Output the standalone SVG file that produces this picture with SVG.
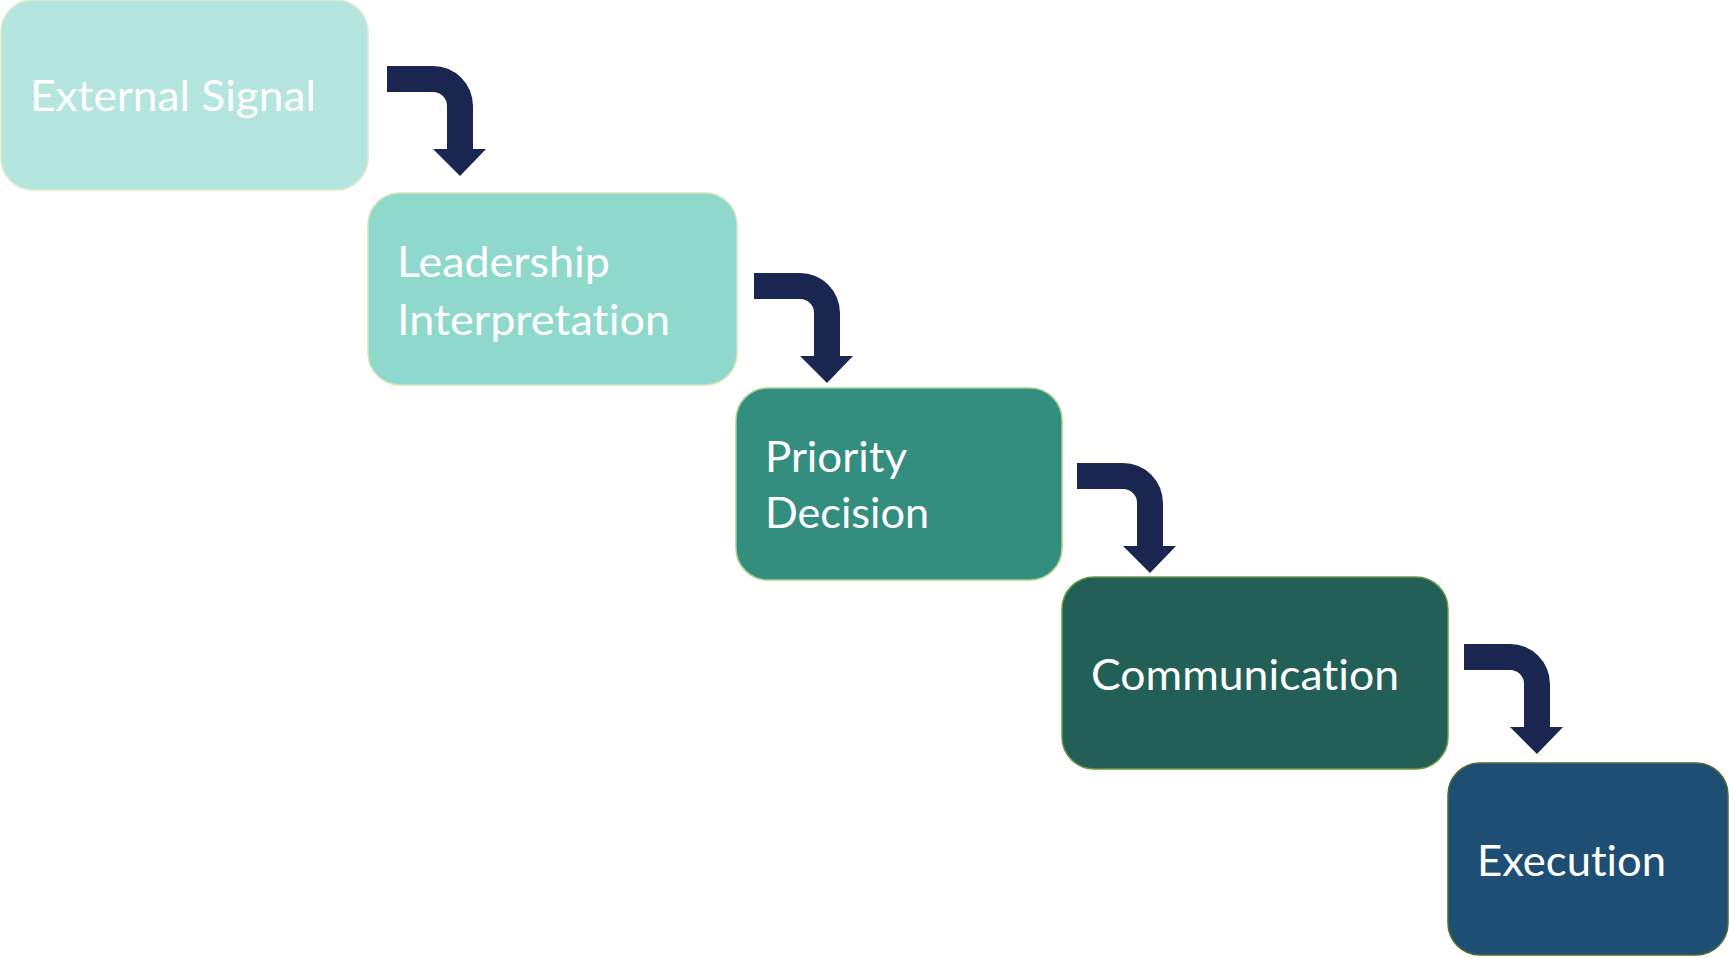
<svg xmlns="http://www.w3.org/2000/svg" width="1729" height="958" viewBox="0 0 1729 958">
<style>
.lbl{font-family:"Lato","Open Sans","Liberation Sans",sans-serif;font-size:43px;fill:#ffffff;font-variant-ligatures:none;font-feature-settings:"liga" 0,"clig" 0,"dlig" 0;}
.arrow{fill:#1a2550;}
</style>
<defs>
<path id="bent" d="M0,0 H46 A40,40 0 0 1 86,40 V83 H99 L73,110 L46,83 H60 V40 A14,14 0 0 0 46,26 H0 Z"/>
</defs>
<rect width="1729" height="958" fill="#ffffff"/>
<g id="connectors">
<use href="#bent" class="arrow" x="387" y="66"/>
<use href="#bent" class="arrow" x="754" y="273"/>
<use href="#bent" class="arrow" x="1077" y="463"/>
<use href="#bent" class="arrow" x="1464" y="644"/>
</g>
<g id="node-external-signal">
<rect x="1" y="0" width="367" height="190" rx="32" fill="#b4e5de" stroke="#dcebc8" stroke-width="1.5"/>
<text class="lbl" x="30" y="111" textLength="286" lengthAdjust="spacingAndGlyphs">External Signal</text>
</g>
<g id="node-leadership-interpretation">
<rect x="368" y="193" width="369" height="192" rx="32" fill="#8fd8cc" stroke="#d2e6b8" stroke-width="1.5"/>
<text class="lbl" x="397" y="277" textLength="213" lengthAdjust="spacingAndGlyphs">Leadership</text>
<text class="lbl" x="397" y="335" textLength="273" lengthAdjust="spacingAndGlyphs">Interpretation</text>
</g>
<g id="node-priority-decision">
<rect x="736" y="388" width="326" height="192" rx="32" fill="#338e80" stroke="#a9d08e" stroke-width="1.5"/>
<text class="lbl" x="765" y="472" textLength="142" lengthAdjust="spacingAndGlyphs">Priority</text>
<text class="lbl" x="765" y="528" textLength="164" lengthAdjust="spacingAndGlyphs">Decision</text>
</g>
<g id="node-communication">
<rect x="1062" y="577" width="386" height="192" rx="32" fill="#225f56" stroke="#6a9a40" stroke-width="1.5"/>
<text class="lbl" x="1091" y="690" textLength="308" lengthAdjust="spacingAndGlyphs">Communication</text>
</g>
<g id="node-execution">
<rect x="1448" y="763" width="280" height="192" rx="32" fill="#1f4e74" stroke="#4f6a2e" stroke-width="1.5"/>
<text class="lbl" x="1477" y="876" textLength="189" lengthAdjust="spacingAndGlyphs">Execution</text>
</g>
</svg>
